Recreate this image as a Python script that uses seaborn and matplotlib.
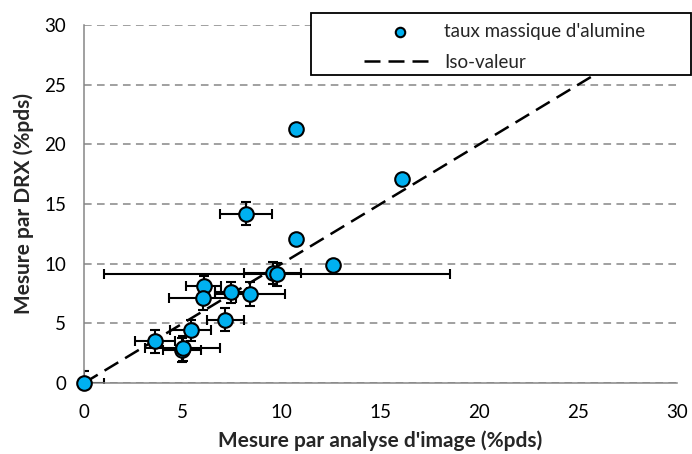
import numpy as np
import pandas as pd
import matplotlib.pyplot as plt
from matplotlib.patches import Rectangle
import seaborn as sns

# ==========================================
# DATA
# ==========================================
mesure_image = [0.0, 3.6, 4.95, 5.0, 5.4, 6.05, 6.0, 7.15, 7.45, 8.4, 8.2, 9.55, 9.75, 10.7, 10.75, 12.6, 16.1]
mesure_drx = [0.0, 3.5, 2.75, 2.9, 4.4, 8.1, 7.1, 5.3, 7.6, 7.45, 14.2, 9.2, 9.1, 12.1, 21.3, 9.9, 17.1]
err_image = [1.0, 1.0, 0.95, 1.9, 1.05, 0.9, 1.7, 0.95, 0.8, 1.75, 1.3, 1.45, 8.75, 0, 0, 0, 0]
err_drx = [1.0, 0.95, 1.0, 1.05, 0.9, 0.9, 1.0, 0.95, 0.9, 1.0, 1.0, 0.9, 0.95, 0, 0, 0, 0]
iso_x = [0, 30]
iso_y = [0, 30]
ticks = [0, 5, 10, 15, 20, 25, 30]

df = pd.DataFrame({"image": mesure_image, "drx": mesure_drx,
                   "err_image": err_image, "err_drx": err_drx})

# ==========================================
# STYLE
# ==========================================
sns.set_theme(style="white")
plt.rcParams["font.family"] = ["Lato", "DejaVu Sans"]

grey = "#868686"

fig = plt.figure(figsize=(6.92, 4.54), dpi=100)
ax = fig.add_axes([84 / 692, 71 / 454, 593 / 692, 358 / 454])

# ==========================================
# PLOT
# ==========================================
ax.errorbar(df["image"], df["drx"], xerr=df["err_image"], yerr=df["err_drx"],
            fmt="none", ecolor="black", elinewidth=1.5, capsize=3.5,
            capthick=1.5, zorder=2)

sns.lineplot(x=iso_x, y=iso_y, ax=ax, color="black", linewidth=1.8,
             linestyle=(0, (6.4, 3.2)), label="Iso-valeur", zorder=1)

sns.scatterplot(data=df, x="image", y="drx", ax=ax, s=110, color="#00B0F0",
                edgecolor="black", linewidth=1.5, label="taux massique d'alumine",
                zorder=3, clip_on=False)

ax.set_xlim(0, 30)
ax.set_ylim(0, 30)
ax.set_xticks(ticks)
ax.set_yticks(ticks)

ax.yaxis.grid(True, linestyle=(0, (5, 3.5)), color=grey, linewidth=1.1)
ax.xaxis.grid(False)
ax.set_axisbelow(True)

for s in ["top", "right"]:
    ax.spines[s].set_visible(False)
for s in ["left", "bottom"]:
    ax.spines[s].set_color(grey)
    ax.spines[s].set_linewidth(1.1)

ax.tick_params(axis="both", which="major", direction="out", length=4,
               width=1, color=grey, labelsize=13.5, labelcolor="black")
ax.tick_params(axis="y", pad=9)
ax.tick_params(axis="x", pad=11)

ax.set_xlabel("Mesure par analyse d'image (%pds)", fontsize=15,
              fontweight="bold", labelpad=7)
ax.set_ylabel("Mesure par DRX (%pds)", fontsize=15, fontweight="bold",
              labelpad=7)

# ==========================================
# LEGEND (white box over the plot, top right)
# ==========================================
handles, labels = ax.get_legend_handles_labels()
ax.get_legend().remove()
order = [labels.index("taux massique d'alumine"), labels.index("Iso-valeur")]
handles = [handles[i] for i in order]
labels = [labels[i] for i in order]

box = Rectangle((311 / 692, 379 / 454), 380 / 692, 62 / 454,
                transform=fig.transFigure, facecolor="white",
                edgecolor="black", linewidth=1.3, zorder=4)
fig.add_artist(box)

fig.legend(handles, labels, loc="upper left",
           bbox_to_anchor=(355 / 692, 1 - 14 / 454), frameon=False,
           fontsize=13.5, borderpad=0, handlelength=3.8, handletextpad=0.45,
           labelspacing=0.7, markerscale=0.65).set_zorder(5)

fig.savefig("out.png", dpi=100)
